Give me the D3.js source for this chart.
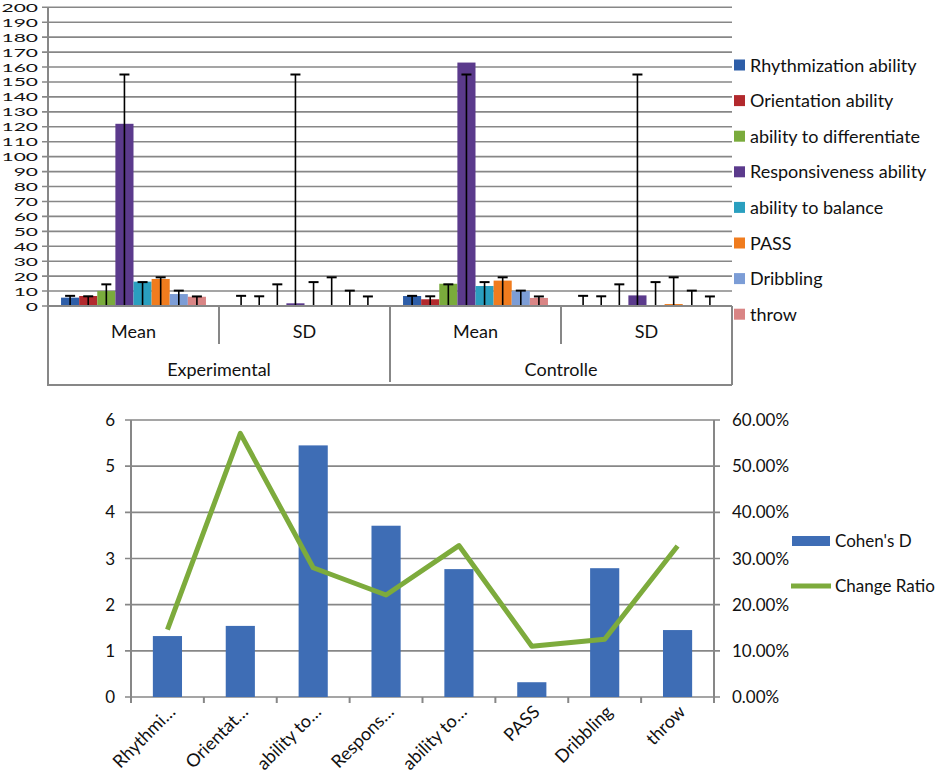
<!DOCTYPE html>
<html>
<head>
<meta charset="utf-8">
<script src="https://cdn.jsdelivr.net/npm/d3@7"></script>
<style>
  body { margin: 0; background: #fff; }
  svg { font-family: Lato, "Open Sans", sans-serif; }
</style>
</head>
<body>
<div class="container"></div>
<script>
// ---- data (top chart) ----
const abilities = ["Rhythmization ability", "Orientation ability", "ability to differentiate",
  "Responsiveness ability", "ability to balance", "PASS", "Dribbling", "throw"];
const groups = ["Experimental", "Controlle"];
const stats = ["Mean", "SD"];
const expMean = [5.6, 6.7, 10, 122, 16.3, 18.1, 8.0, 6.2];
const expSD = [0.4, 0.4, 0.3, 1.8, 0.4, 0.4, 0.3, 0.3];
const ctlMean = [6.7, 4.5, 14.9, 163, 13.4, 17, 10, 5.4];
const ctlSD = [0.4, 0.4, 0.3, 7.1, 0.4, 1.3, 0.3, 0.3];
const errTop = [6.8, 6.5, 14.5, 155, 16, 19.2, 10.3, 6.4];
const seriesColors = ["#2e5ea8", "#b2292d", "#7aab3c", "#5b3a8c", "#2a9fbf", "#f07c1e", "#7c9dd6", "#d98585"];

// ---- data (bottom chart) ----
const shortLabels = ["Rhythmi…", "Orientat…", "ability to…", "Respons…", "ability to…", "PASS", "Dribbling", "throw"];
const cohensD = [1.32, 1.54, 5.45, 3.71, 2.77, 0.32, 2.79, 1.45];
const changeRatio = [0.146, 0.571, 0.280, 0.221, 0.328, 0.110, 0.125, 0.327];

const gridColor = "#878787";

const svg = d3.select(".container")
  .append("svg")
  .attr("width", 941)
  .attr("height", 775);

// =============== top chart ===============
const topG = svg.append("g");
const tLeft = 48, tRight = 732, tZero = 306, tTop = 7.3, tBottom = 385;

const yTop = d3.scaleLinear().domain([0, 200]).range([tZero, tTop]);

// combos: Experimental-Mean, Experimental-SD, Controlle-Mean, Controlle-SD
const combos = [];
groups.forEach(g => stats.forEach(s => combos.push(g + "|" + s)));
const comboValues = {
  "Experimental|Mean": expMean, "Experimental|SD": expSD,
  "Controlle|Mean": ctlMean, "Controlle|SD": ctlSD
};

const x0 = d3.scaleBand().domain(combos).range([tLeft, tRight]);
const x1 = d3.scaleBand().domain(abilities).range([0, x0.bandwidth()])
  .paddingInner(0).paddingOuter(0.72);

// gridlines + tick labels
const topTicks = d3.range(0, 201, 10);
topG.selectAll(".grid")
  .data(topTicks)
  .enter()
  .append("line")
  .attr("x1", tLeft - 6)
  .attr("x2", tRight)
  .attr("y1", d => yTop(d))
  .attr("y2", d => yTop(d))
  .style("stroke", gridColor)
  .style("stroke-width", 1.6);

topG.selectAll(".ylab")
  .data(topTicks)
  .enter()
  .append("text")
  .attr("transform", d => `translate(38, ${yTop(d) + 4.5}) scale(1.75,1)`)
  .attr("text-anchor", "end")
  .attr("font-size", "12px")
  .style("fill", "#111")
  .text(d => d);

// bars
combos.forEach(c => {
  const vals = comboValues[c];
  const g = topG.append("g").attr("transform", `translate(${x0(c)},0)`);
  g.selectAll("rect")
    .data(abilities)
    .enter()
    .append("rect")
    .attr("x", d => x1(d))
    .attr("width", x1.bandwidth())
    .attr("y", (d, i) => yTop(vals[i]))
    .attr("height", (d, i) => tZero - yTop(vals[i]))
    .style("fill", (d, i) => seriesColors[i]);

  // error bars: from baseline to errTop with a cap
  g.selectAll(".err")
    .data(abilities)
    .enter()
    .append("line")
    .attr("x1", d => x1(d) + x1.bandwidth() / 2)
    .attr("x2", d => x1(d) + x1.bandwidth() / 2)
    .attr("y1", tZero)
    .attr("y2", (d, i) => yTop(errTop[i]))
    .style("stroke", "#000")
    .style("stroke-width", 1.6);
  g.selectAll(".cap")
    .data(abilities)
    .enter()
    .append("line")
    .attr("x1", d => x1(d) + x1.bandwidth() / 2 - 5)
    .attr("x2", d => x1(d) + x1.bandwidth() / 2 + 5)
    .attr("y1", (d, i) => yTop(errTop[i]))
    .attr("y2", (d, i) => yTop(errTop[i]))
    .style("stroke", "#000")
    .style("stroke-width", 2);
});

// category axis box
const axisLines = [
  [tLeft, tZero, tRight, tZero],
  [tLeft, tTop, tLeft, tBottom],
  [tLeft - 1, tBottom, tRight, tBottom],
  [tRight, tZero, tRight, tBottom]
];
combos.forEach((c, i) => {
  if (i % 2 === 1) axisLines.push([x0(c), tZero, x0(c), 344]);
  else if (i > 0) axisLines.push([x0(c), tZero, x0(c), 382]);
});
topG.selectAll(".axis-line")
  .data(axisLines)
  .enter()
  .append("line")
  .attr("x1", d => d[0]).attr("y1", d => d[1])
  .attr("x2", d => d[2]).attr("y2", d => d[3])
  .style("stroke", gridColor)
  .style("stroke-width", 2);

topG.selectAll(".statlab")
  .data(combos)
  .enter()
  .append("text")
  .attr("x", d => x0(d) + x0.bandwidth() / 2)
  .attr("y", 338)
  .attr("text-anchor", "middle")
  .attr("font-size", "18px")
  .style("fill", "#111")
  .text(d => d.split("|")[1]);

topG.selectAll(".grouplab")
  .data(groups)
  .enter()
  .append("text")
  .attr("x", d => x0(d + "|Mean") + x0.bandwidth())
  .attr("y", 376)
  .attr("text-anchor", "middle")
  .attr("font-size", "18px")
  .style("fill", "#111")
  .text(d => d);

// legend
const leg = topG.selectAll(".leg")
  .data(abilities)
  .enter()
  .append("g")
  .attr("transform", (d, i) => `translate(734, ${65 + i * 35.6})`);
leg.append("rect")
  .attr("x", 0).attr("y", -5.5)
  .attr("width", 11).attr("height", 11)
  .style("fill", (d, i) => seriesColors[i]);
leg.append("text")
  .attr("x", 16).attr("y", 6.5)
  .attr("font-size", "18px")
  .style("fill", "#111")
  .text(d => d);

// =============== bottom chart ===============
const bot = svg.append("g");
const bLeft = 131, bRight = 714, bZero = 697, bTop = 420;

const xB = d3.scaleBand().domain(d3.range(shortLabels.length))
  .range([bLeft, bRight]).paddingInner(0.6).paddingOuter(0.3);
const yL = d3.scaleLinear().domain([0, 6]).range([bZero, bTop]);
const yR = d3.scaleLinear().domain([0, 0.6]).range([bZero, bTop]);

// gridlines with outside ticks
bot.selectAll(".bgrid")
  .data(yL.ticks(6))
  .enter()
  .append("line")
  .attr("x1", bLeft - 6)
  .attr("x2", bRight + 6)
  .attr("y1", d => yL(d))
  .attr("y2", d => yL(d))
  .style("stroke", gridColor)
  .style("stroke-width", 1.6);

bot.append("line")
  .attr("x1", bLeft).attr("x2", bLeft)
  .attr("y1", bTop).attr("y2", bZero + 6)
  .style("stroke", gridColor).style("stroke-width", 2);
bot.append("line")
  .attr("x1", bRight).attr("x2", bRight)
  .attr("y1", bTop).attr("y2", bZero + 6)
  .style("stroke", gridColor).style("stroke-width", 2);

// category boundary ticks
bot.selectAll(".xtick")
  .data(d3.range(shortLabels.length + 1))
  .enter()
  .append("line")
  .attr("x1", d => bLeft + d * xB.step())
  .attr("x2", d => bLeft + d * xB.step())
  .attr("y1", bZero)
  .attr("y2", bZero + 6)
  .style("stroke", gridColor).style("stroke-width", 2);

// left labels
bot.selectAll(".ylabL")
  .data(yL.ticks(6))
  .enter()
  .append("text")
  .attr("x", 115)
  .attr("y", d => yL(d) + 6)
  .attr("text-anchor", "end")
  .attr("font-size", "17px")
  .style("fill", "#111")
  .text(d => d);

// right labels
bot.selectAll(".ylabR")
  .data(yR.ticks(6))
  .enter()
  .append("text")
  .attr("x", 732)
  .attr("y", d => yR(d) + 6)
  .attr("font-size", "17px")
  .style("fill", "#111")
  .text(d => (d * 100).toFixed(2) + "%");

// bars
bot.selectAll(".dbar")
  .data(cohensD)
  .enter()
  .append("rect")
  .attr("x", (d, i) => xB(i))
  .attr("width", xB.bandwidth())
  .attr("y", d => yL(d))
  .attr("height", d => bZero - yL(d))
  .style("fill", "#3e6db5");

// line
const line = d3.line()
  .x((d, i) => xB(i) + xB.bandwidth() / 2)
  .y(d => yR(d));
bot.append("path")
  .datum(changeRatio)
  .attr("d", line)
  .style("fill", "none")
  .style("stroke", "#7dab3c")
  .style("stroke-width", 5)
  .style("stroke-linejoin", "round");

// rotated category labels
bot.selectAll(".xlab")
  .data(shortLabels)
  .enter()
  .append("text")
  .attr("transform", (d, i) => `translate(${xB(i) + xB.bandwidth() / 2 + 9}, 713) rotate(-45)`)
  .attr("text-anchor", "end")
  .attr("font-size", "18px")
  .style("fill", "#111")
  .text(d => d);

// legend
bot.append("rect")
  .attr("x", 792).attr("y", 536)
  .attr("width", 38).attr("height", 10)
  .style("fill", "#3e6db5");
bot.append("text")
  .attr("x", 835).attr("y", 547)
  .attr("font-size", "17px")
  .style("fill", "#111")
  .text("Cohen's D");
bot.append("line")
  .attr("x1", 791).attr("x2", 831)
  .attr("y1", 586).attr("y2", 586)
  .style("stroke", "#7dab3c")
  .style("stroke-width", 5);
bot.append("text")
  .attr("x", 835).attr("y", 592)
  .attr("font-size", "17px")
  .style("fill", "#111")
  .text("Change Ratio");
</script>
</body>
</html>
